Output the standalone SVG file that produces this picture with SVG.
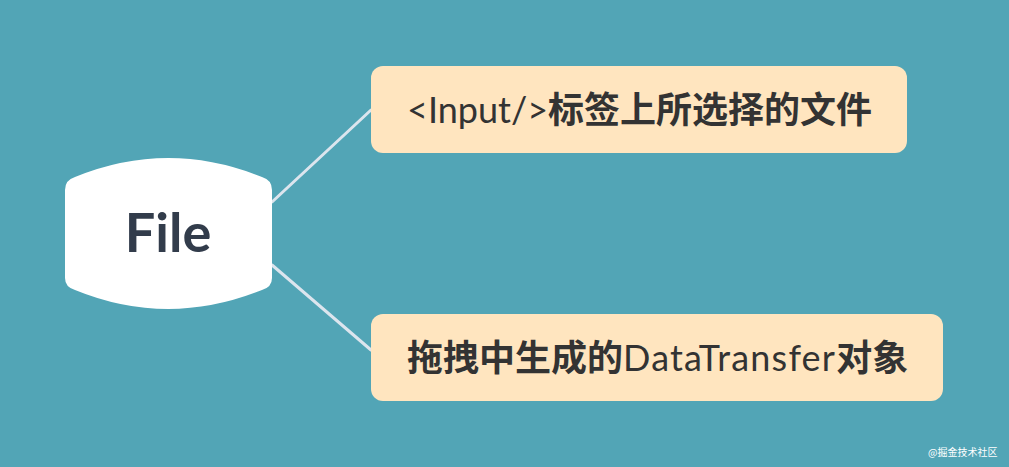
<svg xmlns="http://www.w3.org/2000/svg" width="1009" height="467" viewBox="0 0 1009 467">
<style>
.bg{fill:#52A5B6}
.conn{stroke:#DCE5EE;stroke-width:3;fill:none;stroke-linecap:round}
.box{fill:#FFE5BF}
.t{font-size:36px;fill:#333333}
.lat{font-family:Lato,"Open Sans","Noto Sans CJK SC",sans-serif;font-weight:400}
.cjk{font-family:"Noto Sans CJK SC",sans-serif;font-weight:700}
.root{font-family:Lato,"Open Sans",sans-serif;font-weight:700;font-size:54px;fill:#323C4B}
.wm{font-family:"Noto Sans CJK SC",sans-serif;font-size:10px;fill:#FFFFFF}
</style>
<rect class="bg" x="0" y="0" width="1009" height="467"/>
<g id="connectors">
<line class="conn" x1="272" y1="202" x2="371" y2="110"/>
<line class="conn" x1="272" y1="265" x2="371" y2="350"/>
</g>
<g id="node-file">
<path d="M65,190 Q65,180 75,177 Q168,139 262,177 Q272,180 272,190 L272,278 Q272,287 262,290 Q168,328 75,290 Q65,287 65,278 Z" fill="#FFFFFF"/>
<text class="root" x="168" y="252" text-anchor="middle">File</text>
</g>
<g id="node-input">
<rect class="box" x="371" y="66" width="536" height="87" rx="12"/>
<text class="t" x="407" y="123"><tspan class="lat">&lt;Input/&gt;</tspan><tspan class="cjk">标签上所选择的文件</tspan></text>
</g>
<g id="node-datatransfer">
<rect class="box" x="371" y="314" width="572" height="87" rx="12"/>
<text class="t" x="407" y="371"><tspan class="cjk">拖拽中生成的</tspan><tspan class="lat" letter-spacing="1.2">DataTransfer</tspan><tspan class="cjk">对象</tspan></text>
</g>
<text class="wm" x="928" y="456">@掘金技术社区</text>
</svg>
